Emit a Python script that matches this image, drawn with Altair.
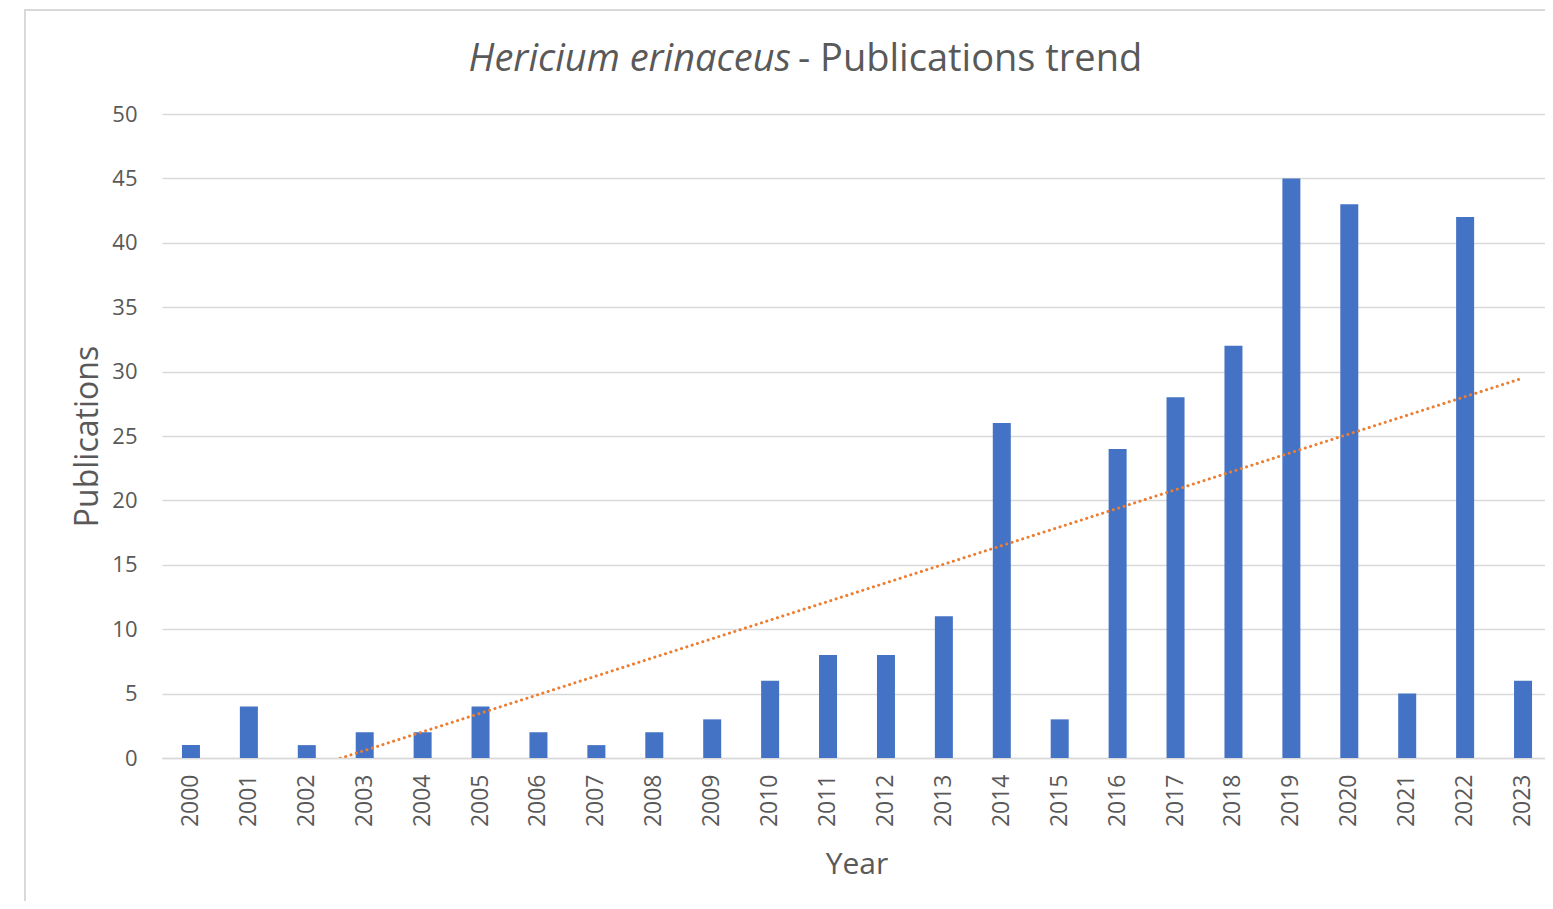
import altair as alt
import pandas as pd

years = list(range(2000, 2024))
publications = [1, 4, 1, 2, 2, 4, 2, 1, 2, 3, 6, 8, 8, 11, 26, 3, 24, 28, 32, 45, 43, 5, 42, 6]

title_italic = "Hericium erinaceus"
title_rest = "- Publications trend"

df = pd.DataFrame({"year": years, "publications": publications})

FONT = "Open Sans"
GREY = "#595959"
W, H = 1383, 644
X_RANGE = 1390

x_enc = alt.X(
    "year:O",
    title="Year",
    scale=alt.Scale(paddingInner=0, paddingOuter=0, range=[0, X_RANGE]),
    axis=alt.Axis(
        labelAngle=-90,
        labelFont=FONT,
        labelFontSize=23,
        labelColor=GREY,
        labelPadding=16,
        ticks=False,
        domainColor="#d9d9d9",
        domainWidth=1.5,
        titleFont=FONT,
        titleFontSize=30,
        titleFontWeight="normal",
        titleColor=GREY,
        titleY=115,
        titleX=W / 2 + 3,
        titleBaseline="alphabetic",
    ),
)

y_enc = alt.Y(
    "publications:Q",
    title="Publications",
    scale=alt.Scale(domain=[0, 50], nice=False),
    axis=alt.Axis(
        values=list(range(0, 55, 5)),
        labelFont=FONT,
        labelFontSize=22,
        labelColor=GREY,
        labelPadding=25,
        ticks=False,
        domain=False,
        gridColor="#d9d9d9",
        gridWidth=1.5,
        titleFont=FONT,
        titleFontSize=32,
        titleFontWeight="normal",
        titleColor=GREY,
        titleX=-65,
        titleBaseline="alphabetic",
    ),
)

base = alt.Chart(df)

frame = base.mark_rect(fill=None, stroke="#d9d9d9", strokeWidth=2).encode(
    x=alt.value(-137), x2=alt.value(W + 40), y=alt.value(-104), y2=alt.value(H + 200)
).transform_filter("datum.year == 2000")

bars = base.mark_bar(size=18, color="#4472C4").encode(x=x_enc, y=y_enc)

trend = base.transform_regression("year", "publications", method="linear").mark_line(
    color="#ED7D31", strokeWidth=3, strokeDash=[0.1, 5.5], strokeCap="round", clip=True
).encode(x=alt.X("year:O"), y=alt.Y("publications:Q"))

t1 = base.mark_text(
    text=title_italic, font=FONT, fontSize=38, fontStyle="italic", color=GREY,
    align="right", baseline="alphabetic"
).encode(x=alt.value(629), y=alt.value(-43)).transform_filter("datum.year == 2000")

t2 = base.mark_text(
    text=title_rest, font=FONT, fontSize=38, color=GREY,
    align="left", baseline="alphabetic"
).encode(x=alt.value(636), y=alt.value(-43)).transform_filter("datum.year == 2000")

chart = alt.layer(frame, bars, trend, t1, t2).properties(
    width=W,
    height=H,
    autosize=alt.AutoSizeParams(type="none"),
    padding={"left": 154, "top": 106, "right": 0, "bottom": 143},
).configure_view(stroke=None)

chart.save("out.html", embed_options={"renderer": "svg", "actions": False})
